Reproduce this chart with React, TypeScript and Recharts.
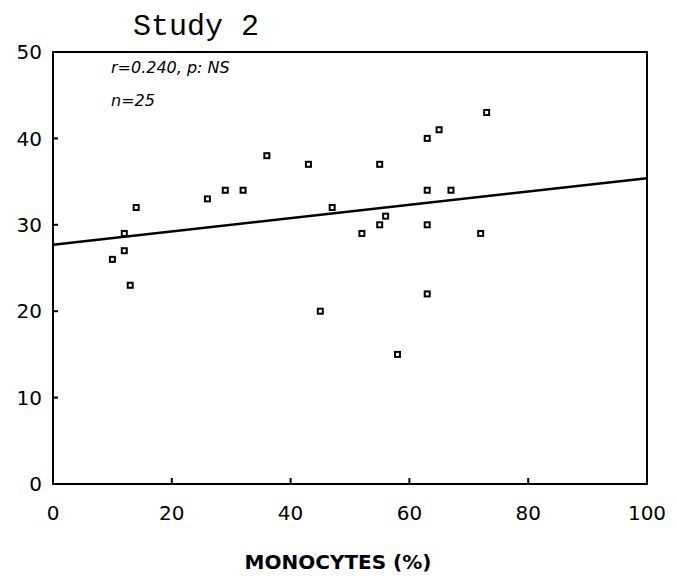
import React from "react";
import {
  ScatterChart,
  Scatter,
  XAxis,
  YAxis,
  ReferenceArea,
  ReferenceLine,
} from "recharts";

// Study 2: monocytes (%) per subject vs. measured value
const monocytes = [10, 12, 12, 13, 14, 26, 29, 32, 36, 43, 45, 47, 52, 55, 55, 56, 58, 63, 63, 63, 63, 65, 67, 72, 73];
const values = [26, 29, 27, 23, 32, 33, 34, 34, 38, 37, 20, 32, 29, 37, 30, 31, 15, 40, 34, 30, 22, 41, 34, 29, 43];

// Fitted regression line, end points at x = 0 and x = 100
const fitX = [0, 100];
const fitY = [27.7, 35.4];

const xTicks = [0, 20, 40, 60, 80, 100];
const yTicks = [0, 10, 20, 30, 40, 50];

const points = monocytes.map((x, i) => ({ x, y: values[i] }));
const fitSegment = fitX.map((x, i) => ({ x, y: fitY[i] }));

const tickFont = { fontFamily: "DejaVu Sans", fontSize: 20, fill: "#000" };

const SquareMarker = (props: any) => {
  const { cx, cy } = props;
  return (
    <rect
      x={cx - 2.5}
      y={cy - 2.5}
      width={5}
      height={5}
      fill="#fff"
      stroke="#000"
      strokeWidth={2}
    />
  );
};

const noteStyle: React.CSSProperties = {
  position: "absolute",
  left: 111,
  fontFamily: "DejaVu Sans",
  fontStyle: "italic",
  fontSize: 16,
  lineHeight: "20px",
  color: "#000",
  whiteSpace: "nowrap",
};

export default function App() {
  return (
    <div style={{ position: "absolute", left: 0, top: 0, width: 677, height: 580, background: "#fff" }}>
      <div
        style={{
          position: "absolute",
          left: 133,
          top: 9,
          fontFamily: "Liberation Mono",
          fontSize: 30,
          lineHeight: "36px",
          color: "#000",
          whiteSpace: "nowrap",
        }}
      >
        Study 2
      </div>
      <ScatterChart
        width={677}
        height={580}
        margin={{ top: 52, right: 30, bottom: 36, left: 0 }}
      >
        <XAxis
          type="number"
          dataKey="x"
          domain={[0, 100]}
          ticks={xTicks}
          interval={0}
          height={60}
          axisLine={false}
          tickSize={-6}
          tickMargin={28}
          tickLine={{ stroke: "#000", strokeWidth: 2 }}
          tick={tickFont}
        />
        <YAxis
          type="number"
          dataKey="y"
          domain={[0, 50]}
          ticks={yTicks}
          interval={0}
          width={53}
          axisLine={false}
          tickSize={-5}
          tickMargin={16}
          tickLine={{ stroke: "#000", strokeWidth: 2 }}
          tick={tickFont}
        />
        <ReferenceArea
          x1={0}
          x2={100}
          y1={0}
          y2={50}
          fill="none"
          stroke="#000"
          strokeWidth={2}
          fillOpacity={0}
        />
        <ReferenceLine segment={fitSegment} stroke="#000" strokeWidth={2.5} />
        <Scatter data={points} shape={SquareMarker} isAnimationActive={false} />
      </ScatterChart>
      <div style={{ ...noteStyle, top: 58 }}>r=0.240, p: NS</div>
      <div style={{ ...noteStyle, top: 91 }}>n=25</div>
      <div
        style={{
          position: "absolute",
          left: 338,
          top: 550,
          transform: "translateX(-50%)",
          fontFamily: "DejaVu Sans",
          fontWeight: "bold",
          fontSize: 20,
          lineHeight: "24px",
          color: "#000",
          whiteSpace: "nowrap",
        }}
      >
        MONOCYTES (%)
      </div>
    </div>
  );
}
